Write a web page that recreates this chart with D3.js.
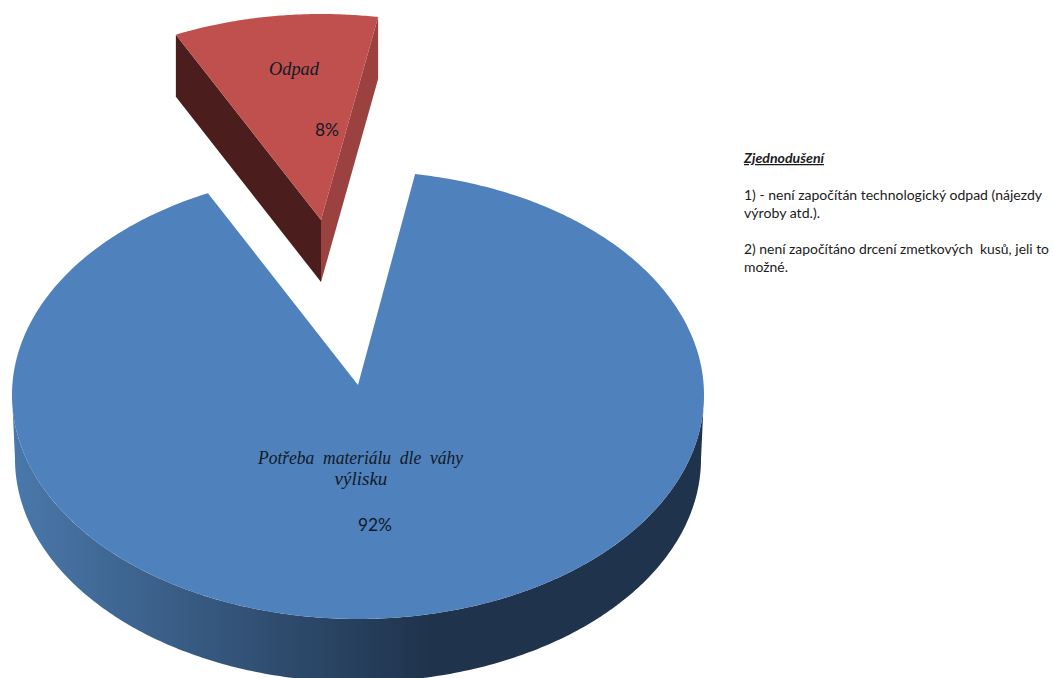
<!DOCTYPE html>
<html lang="cs">
<head>
<meta charset="utf-8">
<title>Potřeba materiálu</title>
<script src="https://cdn.jsdelivr.net/npm/d3@7"></script>
<style>
  html, body { margin: 0; padding: 0; background: #fff; }
  svg { display: block; }
</style>
</head>
<body>
<script>
// Slice data
const categories = ["Odpad", "Potřeba materiálu dle váhy výlisku"];
const values = [8, 92];
const seriesColors = ["#c0504d", "#4f81bd"];

// Side note text
const noteTitle = "Zjednodušení";
const noteLines = [
  "1) - není započítán technologický odpad (nájezdy",
  "výroby atd.).",
  "2) není započítáno drcení zmetkových  kusů, jeli to",
  "možné."
];

const width = 1053, height = 678;
const svg = d3.select("body").append("svg").attr("width", width).attr("height", height);
const rad = d => d * Math.PI / 180;

// Tilted disc: outer ellipse plus the hub point, which sits above the ellipse centre.
const disc = { rx: 346, ry: 224, depth: 64, bottomRx: 343, bottomRy: 223 };
const layout = [
  { cx: 321, cy: 238, hubX: 321, hubY: 220, wall: 62 },  // pulled-out slice
  { cx: 358, cy: 395, hubX: 358, hubY: 385, wall: 64 }   // main slice
];

// The tilted view widens the rear of the pie, so pie angles are remapped for display.
const pie = d3.pie().sort(null).value(d => d).startAngle(0).endAngle(2 * Math.PI);
const arcs = pie(values);
const viewAngle = d3.scaleLinear()
  .domain([0, arcs[0].endAngle, 2 * Math.PI])
  .range([rad(-24.8), rad(9.5), rad(334.3)]);

const rimPoint = (l, t, rx = disc.rx, ry = disc.ry, cy = l.cy) =>
  [l.cx + rx * Math.sin(t), cy - ry * Math.cos(t)];
const sweep = (a, b, n = 240) => d3.range(n + 1).map(i => a + (b - a) * i / n);
const line = d3.line();

const defs = svg.append("defs");
const sideFill = defs.append("linearGradient")
  .attr("id", "mainSide").attr("gradientUnits", "userSpaceOnUse")
  .attr("x1", 12).attr("x2", 430).attr("y1", 0).attr("y2", 0);
sideFill.append("stop").attr("offset", 0).attr("stop-color", "#4a78ab");
sideFill.append("stop").attr("offset", 1).attr("stop-color", "#1f334c");

// Main slice: front wall first, then its top face.
const main = layout[1];
const wallTop = sweep(rad(90), rad(270)).map(t => rimPoint(main, t));
const wallBottom = sweep(rad(270), rad(90))
  .map(t => rimPoint(main, t, disc.bottomRx, disc.bottomRy, main.cy + disc.depth));
svg.append("path")
  .attr("d", line(wallTop.concat(wallBottom)) + "Z")
  .attr("fill", "url(#mainSide)");

const mainRim = sweep(viewAngle(arcs[1].startAngle), viewAngle(arcs[1].endAngle), 480)
  .map(t => rimPoint(main, t));
svg.append("path")
  .attr("d", line([[main.hubX, main.hubY], ...mainRim]) + "Z")
  .attr("fill", seriesColors[1]);

// Pulled-out slice: two cut walls, then its top face.
const out = layout[0];
const tLeft = viewAngle(arcs[0].startAngle), tRight = viewAngle(arcs[0].endAngle);
const cutWall = (t, fill) => {
  const p = rimPoint(out, t);
  svg.append("path")
    .attr("d", line([
      [out.hubX, out.hubY], p, [p[0], p[1] + out.wall], [out.hubX, out.hubY + out.wall]
    ]) + "Z")
    .attr("fill", fill);
};
cutWall(tLeft, "#4b1e1d");
cutWall(tRight, "#9b4240");
const outRim = sweep(tLeft, tRight, 80).map(t => rimPoint(out, t));
svg.append("path")
  .attr("d", line([[out.hubX, out.hubY], ...outRim]) + "Z")
  .attr("fill", seriesColors[0]);

// Slice labels
const nameFont = "'Liberation Serif', serif";
const bodyFont = "Lato, 'Open Sans', sans-serif";
const ink = "#111a26";
const text = (x, y, str, o = {}) => svg.append("text")
  .attr("x", x).attr("y", y)
  .attr("font-family", o.family || bodyFont)
  .attr("font-size", o.size || 12.5)
  .attr("font-style", o.italic ? "italic" : "normal")
  .attr("font-weight", o.bold ? 700 : 400)
  .attr("fill", o.fill || ink)
  .attr("text-anchor", o.anchor || "start")
  .attr("text-decoration", o.underline ? "underline" : null)
  .attr("textLength", o.fit || null)
  .attr("lengthAdjust", o.fit ? "spacingAndGlyphs" : null)
  .attr("xml:space", "preserve")
  .style("white-space", "pre")
  .text(str);

const pct = v => `${v}%`;
text(269, 75, categories[0], { family: nameFont, italic: true, size: 19, fit: 50 });
text(315, 136, pct(values[0]), { size: 18, fit: 24 });

const mainWords = categories[1].split(" ");
text(258, 464, mainWords.slice(0, 4).join("  "), { family: nameFont, italic: true, size: 19, fit: 205 });
text(361, 485, mainWords[4], { family: nameFont, italic: true, size: 19, anchor: "middle" });
text(358, 531, pct(values[1]), { size: 18, fit: 34 });

// Side note
const noteInk = "#1c1c1c";
text(744, 163, noteTitle, { italic: true, bold: true, underline: true, fill: noteInk, fit: 80 });
text(744, 200, noteLines[0], { fill: noteInk, fit: 298 });
text(744, 218, noteLines[1], { fill: noteInk, fit: 76 });
text(744, 254, noteLines[2], { fill: noteInk, fit: 305 });
text(744, 272, noteLines[3], { fill: noteInk, fit: 44 });
</script>
</body>
</html>
